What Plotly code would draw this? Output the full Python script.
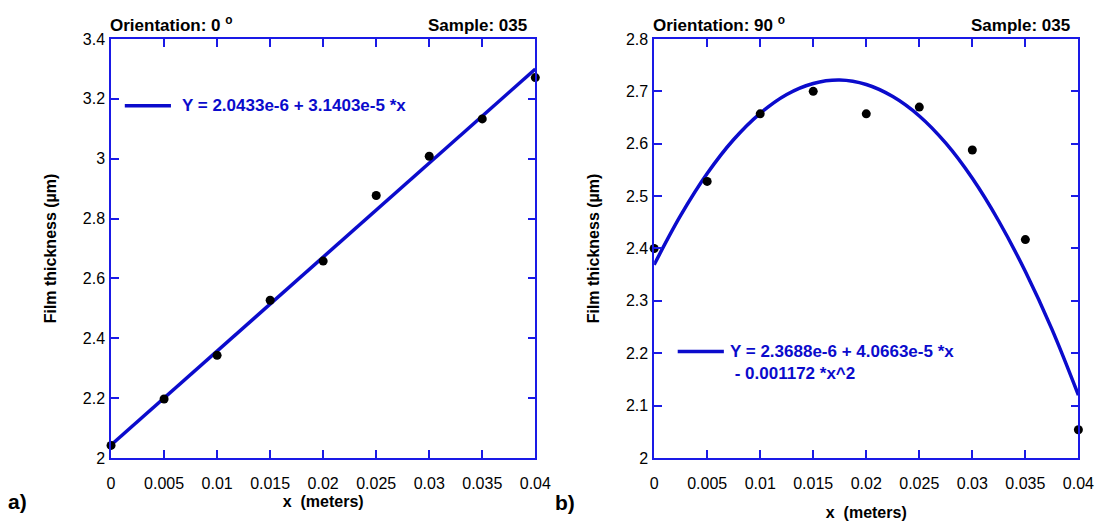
import plotly.graph_objects as go

# ---------------- data ----------------
x_points = [0, 0.005, 0.01, 0.015, 0.02, 0.025, 0.03, 0.035, 0.04]
thick_0deg = [2.042, 2.197, 2.343, 2.527, 2.658, 2.877, 3.008, 3.133, 3.271]
thick_90deg = [2.400, 2.528, 2.657, 2.700, 2.657, 2.670, 2.588, 2.417, 2.054]

fit0_x = [0, 0.04]
fit0_y = [2.0433, 3.2994]

fit90_x = [0, 0.0025, 0.005, 0.0075, 0.01, 0.0125, 0.015, 0.0175, 0.02,
           0.0225, 0.025, 0.0275, 0.03, 0.0325, 0.035, 0.0375, 0.04]
fit90_y = [2.369, 2.463, 2.543, 2.608, 2.658, 2.694, 2.715, 2.7215, 2.713,
           2.690, 2.653, 2.601, 2.534, 2.452, 2.356, 2.246, 2.120]

x_tickvals = [0, 0.005, 0.01, 0.015, 0.02, 0.025, 0.03, 0.035, 0.04]
x_ticktext = ["0", "0.005", "0.01", "0.015", "0.02", "0.025", "0.03", "0.035", "0.04"]
y0_tickvals = [2, 2.2, 2.4, 2.6, 2.8, 3, 3.2, 3.4]
y0_ticktext = ["2", "2.2", "2.4", "2.6", "2.8", "3", "3.2", "3.4"]
y90_tickvals = [2, 2.1, 2.2, 2.3, 2.4, 2.5, 2.6, 2.7, 2.8]
y90_ticktext = ["2", "2.1", "2.2", "2.3", "2.4", "2.5", "2.6", "2.7", "2.8"]

legend0_text = "Y = 2.0433e-6 + 3.1403e-5 *x"
legend90_text = "Y = 2.3688e-6 + 4.0663e-5 *x<br> - 0.001172 *x^2"

# ---------------- style ----------------
FONT = "Arial, 'Liberation Sans', sans-serif"
AXIS_BLUE = "#1a1ae6"
FIT_BLUE = "#0b0bcc"
TEXT_BLUE = "#0b0bcc"
W, H = 1116, 527

def px_x(p):
    return p / W

def px_y(p):
    return (H - p) / H

left_dom = [px_x(109), px_x(541)]
right_dom = [px_x(662), px_x(1094)]
y_dom = [px_y(465), px_y(32)]

fig = go.Figure()

# left panel
fig.add_trace(go.Scatter(x=fit0_x, y=fit0_y, mode="lines",
                         line=dict(color=FIT_BLUE, width=3.5),
                         xaxis="x", yaxis="y", showlegend=False, cliponaxis=False))
fig.add_trace(go.Scatter(x=x_points, y=thick_0deg, mode="markers",
                         marker=dict(color="black", size=9),
                         xaxis="x", yaxis="y", showlegend=False, cliponaxis=False))
# right panel
fig.add_trace(go.Scatter(x=fit90_x, y=fit90_y, mode="lines",
                         line=dict(color=FIT_BLUE, width=3.5, shape="spline"),
                         xaxis="x2", yaxis="y2", showlegend=False, cliponaxis=False))
fig.add_trace(go.Scatter(x=x_points, y=thick_90deg, mode="markers",
                         marker=dict(color="black", size=9),
                         xaxis="x2", yaxis="y2", showlegend=False, cliponaxis=False))

common_axis = dict(showline=True, linecolor=AXIS_BLUE, linewidth=1.5,
                   mirror="ticks", ticks="inside", tickcolor=AXIS_BLUE,
                   tickwidth=1.5, showgrid=False, zeroline=False,
                   tickfont=dict(family=FONT, size=16, color="black"))

title_font = dict(family=FONT, size=16, color="black", weight="bold")

fig.update_layout(
    width=W, height=H,
    margin=dict(l=0, r=0, t=0, b=0),
    paper_bgcolor="white", plot_bgcolor="white",
    showlegend=False,
    font=dict(family=FONT),
    xaxis=dict(domain=left_dom, range=[0, 0.04], anchor="y",
               tickvals=x_tickvals, ticktext=x_ticktext, ticklen=8,
               ticklabelstandoff=10,
               title=dict(text="x\u00a0 (meters)", font=title_font, standoff=5),
               **common_axis),
    yaxis=dict(domain=y_dom, range=[2, 3.4], anchor="x",
               tickvals=y0_tickvals, ticktext=y0_ticktext, ticklen=8,
               ticklabelstandoff=1,
               title=dict(text="Film thickness (\u00b5m)", font=title_font, standoff=22),
               **common_axis),
    xaxis2=dict(domain=right_dom, range=[0, 0.04], anchor="y2",
                tickvals=x_tickvals, ticktext=x_ticktext, ticklen=8,
                ticklabelstandoff=10,
                title=dict(text="x\u00a0 (meters)", font=title_font, standoff=16),
                **common_axis),
    yaxis2=dict(domain=y_dom, range=[2, 2.8], anchor="x2",
                tickvals=y90_tickvals, ticktext=y90_ticktext, ticklen=8,
                ticklabelstandoff=1,
                title=dict(text="Film thickness (\u00b5m)", font=title_font, standoff=22),
                **common_axis),
)

head_font = dict(family=FONT, size=17, color="black", weight="bold")
legend_font = dict(family=FONT, size=17, color=TEXT_BLUE, weight="bold")

annotations = [
    # panel headers
    dict(text="Orientation: 0 <sup>o</sup>", xref="x domain", yref="y domain",
         x=0, y=1, xanchor="left", yanchor="bottom", yshift=2, xshift=-3,
         showarrow=False, font=head_font),
    dict(text="Sample: 035", xref="x domain", yref="y domain",
         x=0.986, y=1, xanchor="right", yanchor="bottom", yshift=2, showarrow=False,
         font=head_font),
    dict(text="Orientation: 90 <sup>o</sup>", xref="x2 domain", yref="y2 domain",
         x=0, y=1, xanchor="left", yanchor="bottom", yshift=2, xshift=-3,
         showarrow=False, font=head_font),
    dict(text="Sample: 035", xref="x2 domain", yref="y2 domain",
         x=0.984, y=1, xanchor="right", yanchor="bottom", yshift=2, showarrow=False,
         font=head_font),
    # legend texts
    dict(text=legend0_text, xref="x domain", yref="y domain",
         x=(179 - 109) / 432, y=(465 - 101) / 433, xanchor="left", yanchor="middle",
         showarrow=False, font=legend_font),
    dict(text=legend90_text, xref="x2 domain", yref="y2 domain", align="left",
         x=(737 - 662) / 432, y=(465 - 343) / 433, xanchor="left", yanchor="top",
         showarrow=False, font=legend_font),
    # panel letters
    dict(text="a)", xref="paper", yref="paper", x=px_x(2), y=px_y(510),
         xanchor="left", yanchor="middle", showarrow=False,
         font=dict(family=FONT, size=21, color="black", weight="bold")),
    dict(text="b)", xref="paper", yref="paper", x=px_x(559), y=px_y(511),
         xanchor="left", yanchor="middle", showarrow=False,
         font=dict(family=FONT, size=21, color="black", weight="bold")),
]
fig.update_layout(annotations=annotations)

# legend sample lines
fig.add_shape(type="line", xref="x domain", yref="y domain",
              x0=(123 - 109) / 432, x1=(170 - 109) / 432,
              y0=(465 - 101) / 433, y1=(465 - 101) / 433,
              line=dict(color=FIT_BLUE, width=3.5))
fig.add_shape(type="line", xref="x2 domain", yref="y2 domain",
              x0=(686 - 662) / 432, x1=(733 - 662) / 432,
              y0=(465 - 355) / 433, y1=(465 - 355) / 433,
              line=dict(color=FIT_BLUE, width=3.5))

fig.write_html("out.html")
